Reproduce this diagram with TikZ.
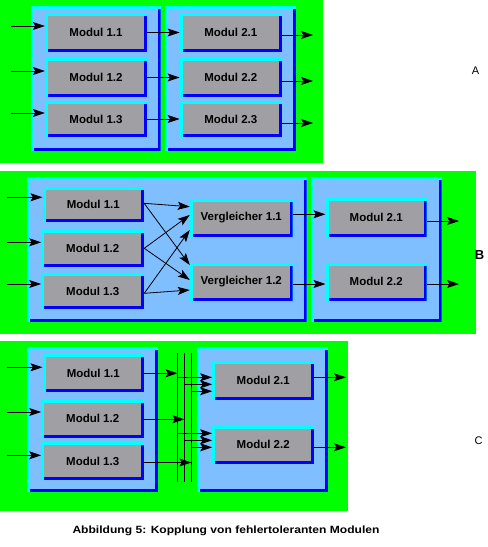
\documentclass[tikz,border=0pt]{standalone}
\usepackage{fontspec}
\setsansfont{Liberation Sans}
\newfontfamily\capfont[FakeStretch=1.15]{Liberation Sans}
\usepackage{xcolor}
\usepackage{tikz}
\usetikzlibrary{arrows.meta}

\definecolor{bggreen}{RGB}{0,255,0}
\definecolor{blocklight}{RGB}{128,191,255}
\definecolor{edgecyan}{RGB}{0,255,255}
\definecolor{edgeblue}{RGB}{0,0,255}
\definecolor{modulgray}{RGB}{160,160,164}

\tikzset{
  raised/.style={fill=edgecyan, inner sep=0pt, path picture={
      \fill[edgeblue] ([shift={(3pt,-3pt)}]path picture bounding box.north west)
        rectangle (path picture bounding box.south east);
      \fill[#1] ([shift={(3pt,-3pt)}]path picture bounding box.north west)
        rectangle ([shift={(-3pt,3pt)}]path picture bounding box.south east);}},
  block/.style={raised=blocklight},
  modul/.style={raised=modulgray, minimum width=102pt, minimum height=38pt,
    font=\sffamily\bfseries\fontsize{11.5}{13}\selectfont},
  arr/.style={line width=0.8pt, arrows={-Stealth[length=12pt,width=8pt,inset=2.5pt]}},
  bus/.style={line width=0.8pt},
  tag/.style={font=\sffamily\fontsize{11}{13}\selectfont}
}

\begin{document}
\begin{tikzpicture}[x=1pt,y=-1pt]
        \useasboundingbox (0,0) rectangle (488,547);
        % A
        \fill[bggreen] (0,0) rectangle (323,163);
        \node[block, minimum width=129.4pt, minimum height=144.7pt] (blockA1) at (96,78.3) {};
        \node[block, minimum width=130.7pt, minimum height=144.7pt] (blockA2) at (230.7,78.3) {};
        \node[modul, minimum height=38.4pt] (a11) at (96,32.5) {Modul 1.1};
        \node[modul, minimum height=38.4pt] (a12) at (96,77.5) {Modul 1.2};
        \node[modul, minimum height=35.4pt] (a13) at (96,119) {Modul 1.3};
        \node[modul, minimum height=38.4pt] (a21) at (230.8,32.5) {Modul 2.1};
        \node[modul, minimum height=38.4pt] (a22) at (230.8,77.5) {Modul 2.2};
        \node[modul, minimum height=35.4pt] (a23) at (230.8,119) {Modul 2.3};
        \draw[arr] (11,26) -- (a11.west |- 0,26);
        \draw[arr] (11,71) -- (a12.west |- 0,71);
        \draw[arr] (11,113) -- (a13.west |- 0,113);
        \draw[arr] (a11.east) -- (a21.west);
        \draw[arr] (a12.east) -- (a22.west);
        \draw[arr] (a13.east) -- (a23.west);
        \draw[arr] (a21.east |- 0,35) -- (313,35);
        \draw[arr] (a22.east |- 0,81) -- (313,81);
        \draw[arr] (a23.east |- 0,123) -- (313,123);
        \node[tag] (labA) at (475.5,71) {A};
        % B
        \fill[bggreen] (0,171) rectangle (476,334);
        \node[block, minimum width=279.4pt, minimum height=144.4pt] (blockB1) at (167,249.5) {};
        \node[block, minimum width=130.7pt, minimum height=144.4pt] (blockB2) at (376.3,249.5) {};
        \node[modul, minimum width=101.3pt, minimum height=35.6pt] (b11) at (93.3,204.5) {Modul 1.1};
        \node[modul, minimum width=102.7pt, minimum height=36.7pt] (b12) at (92.7,248.3) {Modul 1.2};
        \node[modul, minimum width=102.7pt, minimum height=35.7pt] (b13) at (92.7,291.2) {Modul 1.3};
        \node[modul, minimum width=102.7pt, minimum height=37.4pt] (v11) at (241.3,218) {Vergleicher 1.1};
        \node[modul, minimum width=102.7pt] (v12) at (241.3,281.7) {Vergleicher 1.2};
        \node[modul, minimum width=101pt, minimum height=38.4pt] (b21) at (376.2,217.5) {Modul 2.1};
        \node[modul, minimum width=101pt] (b22) at (376.2,281.7) {Modul 2.2};
        \draw[arr] (7,197.3) -- (b11.west |- 0,197.3);
        \draw[arr] (7,242.3) -- (b12.west |- 0,242.3);
        \draw[arr] (7,284) -- (b13.west |- 0,284);
        \draw[arr] (b11.east |- 0,203.3) -- (v11.west |- 0,206.7);
        \draw[arr] (b11.east |- 0,203.3) -- (v12.west |- 0,265);
        \draw[arr] (b12.east |- 0,248.3) -- (v11.west |- 0,215);
        \draw[arr] (b12.east |- 0,248.3) -- (v12.west |- 0,280);
        \draw[arr] (b13.east |- 0,293.3) -- (v11.west |- 0,230);
        \draw[arr] (b13.east |- 0,293.3) -- (v12.west |- 0,290);
        \draw[arr] (v11.east |- 0,214.3) -- (b21.west |- 0,214.3);
        \draw[arr] (v12.east |- 0,284) -- (b22.west |- 0,284);
        \draw[arr] (b21.east |- 0,221) -- (459,221);
        \draw[arr] (b22.east |- 0,284) -- (459,284);
        \node[tag, font=\sffamily\bfseries\fontsize{13}{15}\selectfont] (labB) at (479.5,255) {B};
        % C
        \fill[bggreen] (0,341) rectangle (348,511);
        \node[block, minimum width=130.7pt, minimum height=144.4pt] (blockC1) at (92.7,419.5) {};
        \node[block, minimum width=130.7pt, minimum height=144.4pt] (blockC2) at (262.7,419.5) {};
        \node[modul, minimum width=101.3pt, minimum height=38.3pt] (c11) at (93.3,373.2) {Modul 1.1};
        \node[modul, minimum width=102.7pt, minimum height=38.3pt] (c12) at (92.7,418.8) {Modul 1.2};
        \node[modul, minimum width=102.7pt, minimum height=37.4pt] (c13) at (92.7,461) {Modul 1.3};
        \node[modul, minimum width=101.7pt, minimum height=38.7pt] (c21) at (263.2,380.7) {Modul 2.1};
        \node[modul, minimum width=101.7pt, minimum height=38.3pt] (c22) at (263.2,444.8) {Modul 2.2};
        \coordinate (bus1t) at (177.5,353);
        \coordinate (bus1b) at (177.5,482);
        \coordinate (bus2t) at (184.4,353);
        \coordinate (bus2b) at (184.4,482);
        \coordinate (bus3t) at (191.3,353);
        \coordinate (bus3b) at (191.3,482);
        \draw[bus] (bus1t) -- (bus1b);
        \draw[bus] (bus2t) -- (bus2b);
        \draw[bus] (bus3t) -- (bus3b);
        \draw[arr] (7,367.3) -- (c11.west |- 0,367.3);
        \draw[arr] (7,412) -- (c12.west |- 0,412);
        \draw[arr] (7,455.3) -- (c13.west |- 0,455.3);
        \draw[arr] (c11.east |- 0,373.3) -- (bus1t |- 0,373.3);
        \draw[arr] (c12.east |- 0,419.3) -- (bus2t |- 0,419.3);
        \draw[arr] (c13.east |- 0,462.5) -- (bus3t |- 0,462.5);
        \draw[arr] (bus1t |- 0,377.3) -- (c21.west |- 0,377.3);
        \draw[arr] (bus2t |- 0,384.3) -- (c21.west |- 0,384.3);
        \draw[arr] (bus3t |- 0,391.2) -- (c21.west |- 0,391.2);
        \draw[arr] (bus1t |- 0,433.3) -- (c22.west |- 0,433.3);
        \draw[arr] (bus2t |- 0,440.3) -- (c22.west |- 0,440.3);
        \draw[arr] (bus3t |- 0,447.3) -- (c22.west |- 0,447.3);
        \draw[arr] (c21.east |- 0,377.3) -- (346,377.3);
        \draw[arr] (c22.east |- 0,447.3) -- (346,447.3);
        \node[tag] (labC) at (478.5,441) {C};
        % caption
        \node[font=\capfont\bfseries\fontsize{10.5}{12}\selectfont] (caption) at (226,531)
          {Abbildung 5: Kopplung von fehlertoleranten Modulen};
    \end{tikzpicture}
\end{document}
